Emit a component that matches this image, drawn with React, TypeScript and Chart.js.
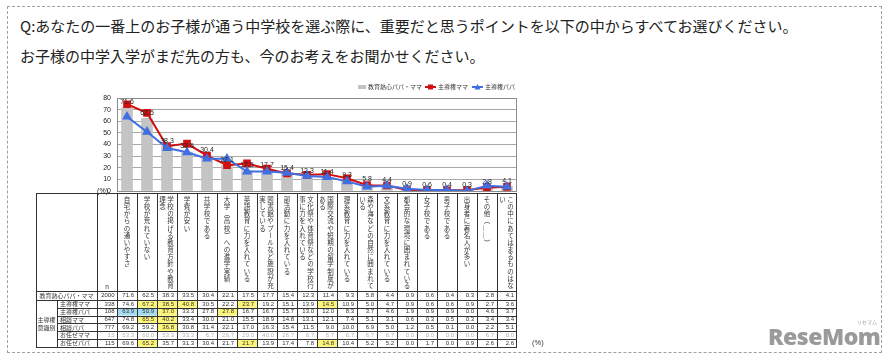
import React, { useEffect, useRef } from 'react';
import { Chart, registerables } from 'chart.js';
Chart.register(...registerables);

const FONT_JP = '"Noto Sans CJK JP", "Noto Sans", sans-serif';
const FONT_NUM = '"Liberation Sans", Arial, sans-serif';

const questionLines = [
  'Q:あなたの一番上のお子様が通う中学校を選ぶ際に、重要だと思うポイントを以下の中からすべてお選びください。',
  'お子様の中学入学がまだ先の方も、今のお考えをお聞かせください。',
];

const categories = [
  '自宅からの通いやすさ',
  '学校が荒れていない',
  '学校の掲げる教育方針や教育理念',
  '学費が安い',
  '共学校である',
  '大学（高校）への進学実績',
  '英語教育に力を入れている',
  '図書館やプールなど施設が充実している',
  '部活動に力を入れている',
  '文化祭や体育祭などの学校行事に力を入れている',
  '国際交流や短期の留学制度がある',
  '理系教育に力を入れている',
  '森や海などの自然に囲まれている',
  '文系教育に力を入れている',
  '都会的な環境に囲まれている',
  '女子校である',
  '男子校である',
  '出身者に著名人が多い',
  'その他（＿＿）',
  'この中にあてはまるものはない',
];

const seriesNames = ['教育熱心パパ・ママ', '主導権ママ', '主導権パパ'];

// 教育熱心パパ・ママ (n=2000)
const enthusiastic = [71.6, 62.5, 38.3, 33.5, 30.4, 22.1, 17.5, 17.7, 15.4, 12.3, 11.4, 9.3, 5.8, 4.4, 0.9, 0.6, 0.4, 0.3, 2.8, 4.1];
const leadMama = [74.6, 67.2, 38.5, 40.8, 30.5, 22.2, 23.7, 19.2, 15.1, 13.9, 14.5, 10.9, 5.0, 4.7, 0.9, 0.6, 0.6, 0.9, 2.7, 3.6];
const leadPapa = [63.9, 50.9, 37.0, 33.3, 27.8, 27.8, 16.7, 16.7, 15.7, 13.0, 12.0, 8.3, 3.7, 4.6, 1.9, 0.9, 0.9, 0.0, 4.6, 3.7];
const consultMama = [74.8, 65.5, 40.2, 33.4, 30.0, 21.0, 15.5, 18.9, 14.8, 13.1, 12.1, 7.4, 5.1, 3.1, 0.6, 0.3, 0.5, 0.3, 3.4, 3.4];
const consultPapa = [69.2, 59.2, 36.8, 30.8, 31.4, 22.1, 17.0, 16.3, 15.4, 11.5, 9.0, 10.0, 6.9, 5.0, 1.2, 0.5, 0.1, 0.0, 2.2, 5.1];
const leaveMama = [53.3, 60.0, 53.3, 33.3, 6.7, 26.7, 20.0, 40.0, 26.7, 6.7, 6.7, 6.7, 6.7, 6.7, 0.0, 0.0, 0.0, 0.0, 6.7, 0.0];
const leavePapa = [69.6, 65.2, 35.7, 31.3, 30.4, 21.7, 21.7, 13.9, 17.4, 7.8, 14.8, 10.4, 5.2, 5.2, 0.0, 1.7, 0.0, 0.9, 2.6, 2.6];

const totalLabel = '教育熱心パパ・ママ';
const totalN = 2000;
const groupLabel = ['主導権', '意識別'];
const rowLabels = ['主導権ママ', '主導権パパ', '相談ママ', '相談パパ', 'お任せママ', 'お任せパパ'];
const rowN = [338, 108, 647, 777, 15, 115];
const rowValues = [leadMama, leadPapa, consultMama, consultPapa, leaveMama, leavePapa];
const mutedRows = [4];

// [row, column] cells marked in the table
const yellowCells = [
  [0, 1], [0, 2], [0, 3], [0, 6], [0, 10],
  [1, 2], [1, 5],
  [2, 1], [2, 2],
  [3, 2],
  [5, 1], [5, 6], [5, 10],
];
const blueCells = [[1, 0], [1, 1]];

const yTicks = { min: 0, max: 80, step: 10 };

const ROTATE = new Set(['（', '）', 'ー', '＿', '〜']);

const extrasPlugin = {
  id: 'extras',
  afterDraw(chart: any) {
    const ctx: CanvasRenderingContext2D = chart.ctx;
    const { left: L, right: R, top: T, bottom: B } = chart.chartArea;
    const px = (v: number) => Math.round(v) + 0.5;
    ctx.save();

    // plot frame
    ctx.strokeStyle = '#8c8c8c';
    ctx.lineWidth = 1;
    ctx.strokeRect(px(L), px(T), Math.round(R - L) - 1, Math.round(B - T));

    // (%) next to the y axis
    ctx.fillStyle = '#222';
    ctx.font = `7px ${FONT_NUM}`;
    ctx.textAlign = 'right';
    ctx.textBaseline = 'middle';
    ctx.fillText('(%)', L - 9, B);

    // bar value labels
    const meta = chart.getDatasetMeta(0);
    ctx.font = `7px ${FONT_NUM}`;
    ctx.textAlign = 'center';
    ctx.textBaseline = 'bottom';
    ctx.fillStyle = '#222';
    meta.data.forEach((el: any, i: number) => {
      ctx.fillText(enthusiastic[i].toFixed(1), el.x, el.y - 2);
    });

    // legend
    ctx.font = `6px ${FONT_JP}`;
    ctx.textBaseline = 'middle';
    ctx.textAlign = 'left';
    const ly = 87;
    const w0 = ctx.measureText(seriesNames[0]).width;
    const w1 = ctx.measureText(seriesNames[1]).width;
    const w2 = ctx.measureText(seriesNames[2]).width;
    const total = 10 + w0 + 3 + 13 + w1 + 4 + 13 + w2;
    let x = R - 2 - total;
    ctx.fillStyle = '#c4c4c4';
    ctx.fillRect(x, ly - 2, 8, 4);
    x += 10;
    ctx.fillStyle = '#333';
    ctx.fillText(seriesNames[0], x, ly);
    x += w0 + 3;
    ctx.strokeStyle = '#d01010';
    ctx.lineWidth = 2;
    ctx.beginPath(); ctx.moveTo(x, ly); ctx.lineTo(x + 11, ly); ctx.stroke();
    ctx.fillStyle = '#d01010';
    ctx.fillRect(x + 3, ly - 2.5, 5, 5);
    x += 13;
    ctx.fillStyle = '#333';
    ctx.fillText(seriesNames[1], x, ly);
    x += w1 + 4;
    ctx.strokeStyle = '#3f6fe0';
    ctx.beginPath(); ctx.moveTo(x, ly); ctx.lineTo(x + 11, ly); ctx.stroke();
    ctx.fillStyle = '#3f6fe0';
    ctx.beginPath(); ctx.moveTo(x + 5.5, ly - 3); ctx.lineTo(x + 8.5, ly + 2.5); ctx.lineTo(x + 2.5, ly + 2.5); ctx.closePath(); ctx.fill();
    x += 13;
    ctx.fillStyle = '#333';
    ctx.fillText(seriesNames[2], x, ly);

    // ---- table ----
    const n = categories.length;
    const colW = (R - L) / n;
    const tL = 36;
    const split = 57;
    const nL = L - colW;
    const tT = B + 2;
    const hB = tT + 98;
    const r1B = hB + 9;
    const rowH = 7.8;
    const tB = r1B + rowH * rowLabels.length;

    // highlighted cells
    yellowCells.forEach(([r, c]) => {
      ctx.fillStyle = '#fdf57a';
      ctx.fillRect(L + c * colW, r1B + r * rowH, colW, rowH);
    });
    blueCells.forEach(([r, c]) => {
      ctx.fillStyle = '#a6dcf2';
      ctx.fillRect(L + c * colW, r1B + r * rowH, colW, rowH);
    });

    // grid lines
    ctx.strokeStyle = '#333';
    ctx.lineWidth = 1;
    ctx.beginPath();
    const hline = (y: number, x0: number, x1: number) => { ctx.moveTo(x0, px(y)); ctx.lineTo(x1, px(y)); };
    const vline = (xv: number, y0: number, y1: number) => { ctx.moveTo(px(xv), y0); ctx.lineTo(px(xv), y1); };
    hline(tT, tL, R);
    hline(hB, tL, R);
    hline(r1B, tL, R);
    for (let r = 1; r < rowLabels.length; r++) hline(r1B + r * rowH, split, R);
    hline(tB, tL, R);
    vline(tL, tT, tB + 0.5);
    vline(nL, tT, tB + 0.5);
    for (let i = 0; i <= n; i++) vline(Math.min(L + i * colW, R - 1), tT, tB + 0.5);
    vline(split, r1B, tB + 0.5);
    ctx.stroke();

    // vertical header labels
    ctx.fillStyle = '#333';
    ctx.font = `6.5px ${FONT_JP}`;
    ctx.textAlign = 'center';
    ctx.textBaseline = 'middle';
    const step = 7.15;
    categories.forEach((label, i) => {
      const chars = Array.from(label);
      const cols: string[][] = [];
      for (let k = 0; k < chars.length; k += 13) cols.push(chars.slice(k, k + 13));
      const cx = L + (i + 0.5) * colW;
      cols.forEach((col, ci) => {
        const colX = cols.length === 1 ? cx : cx + 3.5 - ci * 8;
        col.forEach((ch, k) => {
          const cy = tT + 3 + step * (k + 0.5);
          if (ROTATE.has(ch)) {
            ctx.save();
            ctx.translate(colX, cy);
            ctx.rotate(Math.PI / 2);
            ctx.fillText(ch, 0, 0);
            ctx.restore();
          } else {
            ctx.fillText(ch, colX, cy);
          }
        });
      });
    });
    ctx.font = `6.5px ${FONT_NUM}`;
    ctx.fillText('n', nL + colW / 2, hB - 4);

    // first row
    ctx.font = `6px ${FONT_JP}`;
    ctx.textAlign = 'center';
    ctx.fillText(totalLabel, (tL + nL) / 2, (hB + r1B) / 2);
    ctx.font = `6px ${FONT_NUM}`;
    ctx.textAlign = 'right';
    ctx.fillText(String(totalN), nL + colW - 2.5, (hB + r1B) / 2);
    enthusiastic.forEach((v, c) => {
      ctx.fillText(v.toFixed(1), L + (c + 1) * colW - 3, (hB + r1B) / 2);
    });

    // group label
    ctx.font = `6px ${FONT_JP}`;
    ctx.textAlign = 'center';
    ctx.fillText(groupLabel[0], (tL + split) / 2, (r1B + tB) / 2 - 4);
    ctx.fillText(groupLabel[1], (tL + split) / 2, (r1B + tB) / 2 + 4);

    rowLabels.forEach((lab, r) => {
      const cy = r1B + (r + 0.5) * rowH;
      const muted = mutedRows.includes(r);
      ctx.fillStyle = '#333';
      ctx.font = `6px ${FONT_JP}`;
      ctx.textAlign = 'left';
      ctx.fillText(lab, split + 3, cy);
      ctx.fillStyle = muted ? '#b4b4b4' : '#333';
      ctx.font = `6px ${FONT_NUM}`;
      ctx.textAlign = 'right';
      ctx.fillText(String(rowN[r]), nL + colW - 2.5, cy);
      rowValues[r].forEach((v, c) => {
        ctx.fillText(v.toFixed(1), L + (c + 1) * colW - 3, cy);
      });
    });

    ctx.fillStyle = '#333';
    ctx.font = `7.5px ${FONT_NUM}`;
    ctx.textAlign = 'left';
    ctx.fillText('(%)', R + 15, tB - 4);

    ctx.restore();
  },
};

export default function App() {
  const ref = useRef<HTMLCanvasElement>(null);

  useEffect(() => {
    const chart = new Chart(ref.current as HTMLCanvasElement, {
      type: 'bar',
      data: {
        labels: categories,
        datasets: [
          {
            type: 'bar',
            label: seriesNames[0],
            data: enthusiastic,
            backgroundColor: '#c4c4c4',
            barThickness: 11,
            order: 3,
          } as any,
          {
            type: 'line',
            label: seriesNames[1],
            data: leadMama,
            borderColor: '#d01010',
            backgroundColor: '#d01010',
            borderWidth: 2,
            pointStyle: 'rect',
            pointRadius: 4,
            order: 2,
          } as any,
          {
            type: 'line',
            label: seriesNames[2],
            data: leadPapa,
            borderColor: '#3f6fe0',
            backgroundColor: '#3f6fe0',
            borderWidth: 2,
            pointStyle: 'triangle',
            pointRadius: 3.8,
            order: 1,
          } as any,
        ],
      },
      options: {
        responsive: false,
        animation: false,
        devicePixelRatio: 1,
        layout: { padding: { left: 0, top: 98, right: 375, bottom: 173 } },
        plugins: { legend: { display: false }, tooltip: { enabled: false } },
        scales: {
          x: {
            grid: { display: false },
            ticks: { display: false },
            border: { display: false },
            afterFit: (s: any) => { s.height = 0; },
          },
          y: {
            min: yTicks.min,
            max: yTicks.max,
            ticks: { stepSize: yTicks.step, font: { size: 7, family: FONT_NUM }, color: '#222', padding: 6 },
            grid: { color: '#a8a8a8', drawTicks: false },
            border: { display: true, color: '#8c8c8c' },
            afterFit: (s: any) => { s.width = 117; },
          },
        },
      },
      plugins: [extrasPlugin],
    });
    return () => chart.destroy();
  }, []);

  return (
    <div style={{ position: 'fixed', left: 0, top: 0, width: 892, height: 364, background: '#fff', overflow: 'hidden' }}>
      <div style={{ position: 'absolute', left: 7, top: 6, width: 873, height: 345, border: '1px dashed #a0a0a0' }} />
      {questionLines.map((t, i) => (
        <div key={i} style={{ position: 'absolute', left: 20, top: 18 + i * 30, fontFamily: FONT_JP, fontSize: 15, lineHeight: '16px', color: '#222', whiteSpace: 'nowrap' }}>{t}</div>
      ))}
      <canvas ref={ref} width={892} height={364} style={{ position: 'absolute', left: 0, top: 0 }} />
      <div style={{ position: 'absolute', left: 768, top: 324, fontFamily: '"Open Sans", sans-serif', fontWeight: 800, fontSize: 23, lineHeight: '24px', color: '#9a9a9a', letterSpacing: -0.5 }}>ReseMom</div>
      <div style={{ position: 'absolute', left: 857, top: 319, fontFamily: FONT_JP, fontSize: 5, lineHeight: '6px', color: '#9a9a9a' }}>リセマム</div>
    </div>
  );
}
